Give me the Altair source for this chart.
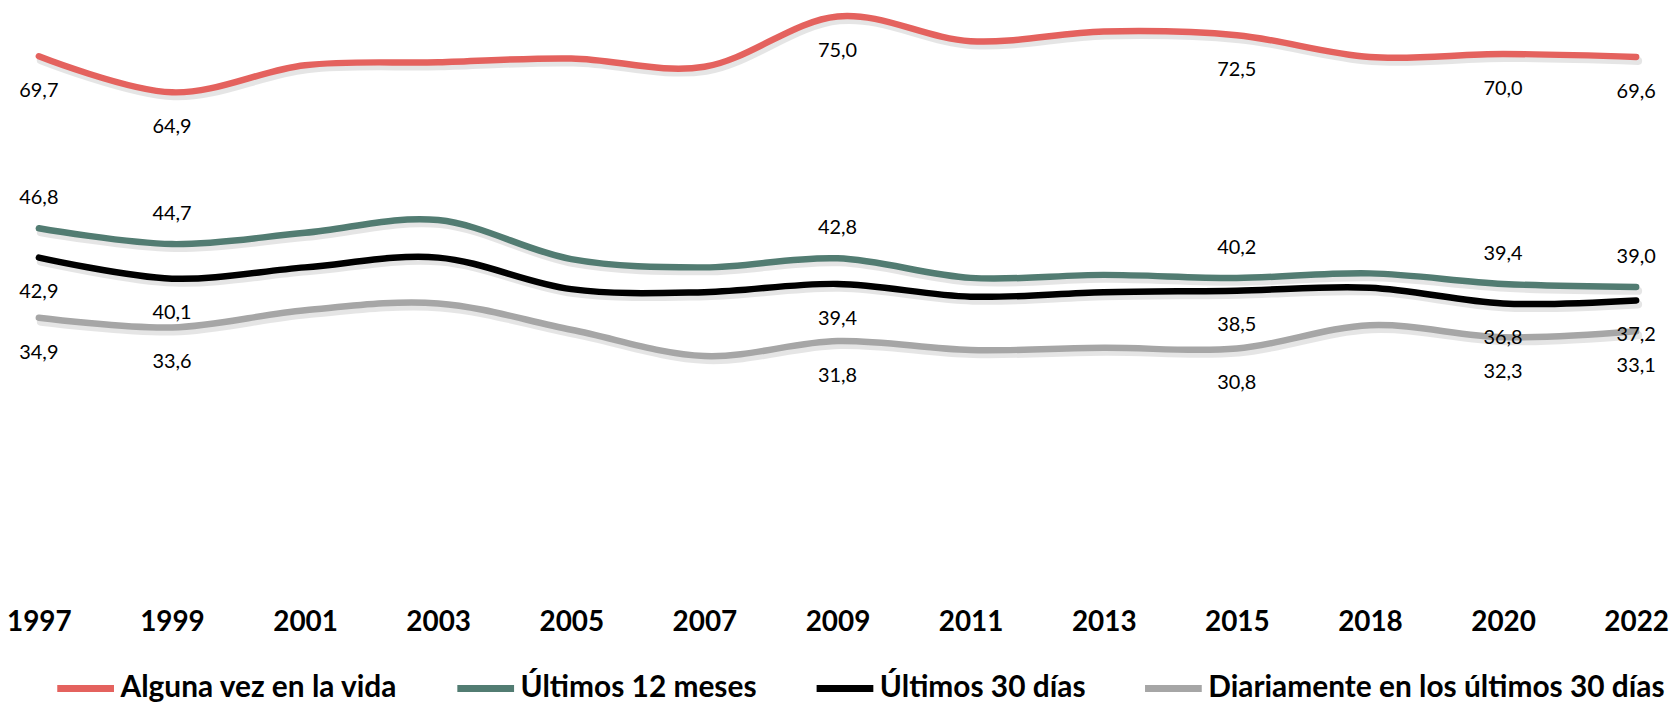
import altair as alt
import pandas as pd

years = ["1997", "1999", "2001", "2003", "2005", "2007", "2009", "2011", "2013", "2015", "2018", "2020", "2022"]
series = ["Alguna vez en la vida", "Últimos 12 meses", "Últimos 30 días", "Diariamente en los últimos 30 días"]
colors = ["#E4625E", "#527C72", "#000000", "#A6A6A6"]

alguna_vez = [69.7, 64.9, 68.5, 68.9, 69.4, 68.3, 75.0, 71.7, 73.0, 72.5, 69.6, 70.0, 69.6]
ult_12_meses = [46.8, 44.7, 46.2, 47.9, 42.7, 41.6, 42.8, 40.2, 40.6, 40.2, 40.8, 39.4, 39.0]
ult_30_dias = [42.9, 40.1, 41.6, 42.9, 38.7, 38.3, 39.4, 37.7, 38.3, 38.5, 38.9, 36.8, 37.2]
diario_30_dias = [34.9, 33.6, 35.9, 36.8, 33.3, 29.8, 31.8, 30.6, 30.9, 30.8, 33.9, 32.3, 33.1]
labelled_years = ["1997", "1999", "2009", "2015", "2020", "2022"]

values = [alguna_vez, ult_12_meses, ult_30_dias, diario_30_dias]
rows = []
for s, vals in zip(series, values):
    for y, v in zip(years, vals):
        rows.append({
            "year": y,
            "series": s,
            "value": v,
            "label": f"{v:.1f}".replace(".", ","),
            "show": y in labelled_years,
        })
df = pd.DataFrame(rows)

FONT = "Lato"

x = alt.X("year:O", sort=years, scale=alt.Scale(type="point", padding=0),
          axis=alt.Axis(title=None, labelAngle=0, domain=False, ticks=False, grid=False,
                        labelFont=FONT, labelFontSize=28, labelFontWeight="bold",
                        labelColor="#000000", labelPadding=51, labelBaseline="alphabetic"))
y = alt.Y("value:Q", scale=alt.Scale(domain=[0, 75.9], nice=False, zero=False), axis=None)

base = alt.Chart(df)

shadow = base.mark_line(interpolate="cardinal", strokeWidth=8, color="#000000", opacity=0.1,
                        strokeCap="round", xOffset=2, yOffset=4).encode(
    x=x, y=y, detail="series:N")

lines = base.mark_line(interpolate="cardinal", strokeWidth=6.5, strokeCap="round").encode(
    x=x, y=y,
    color=alt.Color("series:N", sort=series,
                    scale=alt.Scale(domain=series, range=colors),
                    legend=alt.Legend(title=None, orient="none", direction="horizontal", columns=4,
                                      legendX=15, legendY=650, padding=0,
                                      symbolType="stroke", symbolSize=3249, symbolStrokeWidth=7,
                                      labelFont=FONT, labelFontSize=30, labelFontWeight="bold",
                                      labelColor="#000000", labelLimit=800, labelOffset=3,
                                      columnPadding=45)),
    order=alt.Order("series:N"),
)

labels_above = base.transform_filter(
    (alt.datum.show == True) & (alt.datum.series == series[1])
).mark_text(font=FONT, fontSize=20, color="#000000", dy=-30, baseline="middle").encode(
    x=x, y=y, text="label:N")

labels_below = base.transform_filter(
    (alt.datum.show == True) & (alt.datum.series != series[1])
).mark_text(font=FONT, fontSize=20, color="#000000", dy=35, baseline="middle").encode(
    x=x, y=y, text="label:N")

chart = alt.layer(shadow, lines, labels_above, labels_below).properties(
    width=1605, height=573,
    padding={"left": 31, "top": 0, "right": 36, "bottom": 124},
    autosize=alt.AutoSizeParams(type="none"),
    background="#ffffff",
).configure_view(strokeWidth=0, stroke=None)

chart.save("out.html", embed_options={"renderer": "svg", "actions": False})
